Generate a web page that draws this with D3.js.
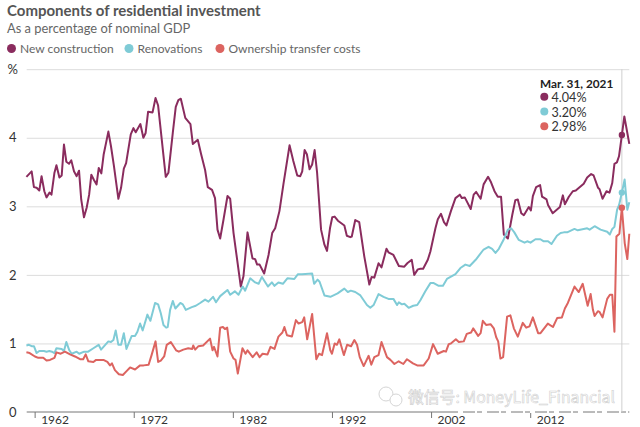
<!DOCTYPE html>
<html>
<head>
<meta charset="utf-8">
<script src="https://cdnjs.cloudflare.com/ajax/libs/d3/7.8.5/d3.min.js"></script>
<style>
  html, body { margin: 0; padding: 0; background: #fff; }
  svg { display: block; }
  text { font-family: "Lato", "Noto Sans", sans-serif; }
</style>
</head>
<body>
<svg id="chart" width="640" height="427"></svg>
<script>
// As [year, % of GDP]
const newConstruction = [[1961.17,3.43],[1961.7,3.51],[1961.93,3.28],[1962.2,3.27],[1962.47,3.23],[1962.7,3.44],[1962.98,3.22],[1963.2,3.13],[1963.5,3.2],[1963.7,3.17],[1964,3.49],[1964.2,3.6],[1964.5,3.42],[1964.73,3.45],[1964.96,3.9],[1965.2,3.65],[1965.47,3.62],[1965.7,3.67],[1965.97,3.51],[1966.24,3.44],[1966.48,3.52],[1966.7,3.1],[1966.98,2.84],[1967.25,2.98],[1967.5,3.17],[1967.72,3.46],[1968,3.38],[1968.25,3.32],[1968.47,3.56],[1968.73,3.48],[1968.97,3.76],[1969.44,4.09],[1969.7,3.88],[1970,3.59],[1970.45,3.11],[1970.72,3.27],[1971,3.55],[1971.23,3.63],[1971.7,4.05],[1971.97,4.14],[1972.2,4.08],[1972.67,4.2],[1972.97,4],[1973.2,4.07],[1973.45,4.38],[1973.9,4.37],[1974.2,4.58],[1974.46,4.47],[1975.23,3.43],[1975.5,3.49],[1975.94,4.07],[1976.24,4.45],[1976.5,4.55],[1976.75,4.57],[1977.2,4.29],[1977.72,4.2],[1977.96,3.91],[1978.46,3.97],[1978.8,3.76],[1979.2,3.53],[1979.47,3.28],[1979.9,3.24],[1980.2,3.12],[1980.45,2.66],[1980.72,2.53],[1981.05,2.8],[1981.46,3.15],[1981.73,3.11],[1982.07,2.61],[1982.8,1.83],[1983.07,1.98],[1983.48,2.62],[1983.98,2.24],[1984.25,2.23],[1984.45,2.15],[1984.7,2.15],[1985.16,2.02],[1985.6,2.29],[1985.97,2.61],[1986.27,2.68],[1986.7,2.93],[1987.1,3.32],[1987.72,3.89],[1988.1,3.66],[1988.5,3.45],[1988.8,3.44],[1989,3.51],[1989.24,3.82],[1989.47,3.76],[1989.74,3.54],[1990,3.61],[1990.25,3.82],[1990.5,3.49],[1990.9,2.66],[1991.24,2.44],[1991.5,2.35],[1991.8,2.68],[1992.03,2.84],[1992.27,2.85],[1992.6,2.79],[1993.25,2.72],[1993.5,2.57],[1993.85,2.55],[1994,2.56],[1994.35,2.8],[1994.75,2.77],[1995.26,2.27],[1995.77,1.86],[1996,1.97],[1996.27,1.96],[1996.7,2.17],[1997,2.11],[1997.5,2.38],[1997.7,2.33],[1998.2,2.29],[1998.75,2.13],[1999.3,2.12],[1999.6,2.17],[2000.05,2.22],[2000.3,2],[2000.66,2.08],[2000.92,2.09],[2001.2,2.09],[2001.67,2.22],[2001.93,2.34],[2002.44,2.68],[2002.68,2.81],[2003,2.89],[2003.3,2.77],[2003.55,2.72],[2004,2.93],[2004.46,3.12],[2004.9,3.17],[2005.1,3.12],[2005.4,3.13],[2006,2.96],[2006.3,3.17],[2006.55,3.21],[2007,3.11],[2007.3,3.32],[2007.75,3.43],[2008.05,3.35],[2008.4,3.22],[2008.73,3.14],[2009.06,3.14],[2009.34,2.59],[2009.75,2.53],[2010.2,2.88],[2010.5,3.09],[2010.75,3.1],[2011.1,2.9],[2011.36,2.87],[2011.86,2.99],[2012.07,2.94],[2012.27,3.15],[2012.6,3.28],[2013,3.31],[2013.2,3.14],[2013.65,3.1],[2013.8,3.02],[2014.27,2.9],[2015,2.99],[2015.3,3.16],[2015.5,3.03],[2015.9,3.14],[2016.3,3.22],[2016.6,3.23],[2017.4,3.33],[2017.75,3.42],[2018.15,3.47],[2018.4,3.45],[2018.85,3.27],[2019,3.25],[2019.3,3.11],[2019.7,3.22],[2020,3.2],[2020.28,3.34],[2020.5,3.62],[2020.75,3.64],[2020.96,3.73],[2021.25,4.04],[2021.5,4.31],[2022,3.91]];

const renovations = [[1961.17,0.97],[1961.43,0.98],[1961.7,0.96],[1961.93,0.96],[1962.2,0.86],[1962.47,0.89],[1962.94,0.89],[1963.2,0.88],[1963.48,0.89],[1963.75,0.88],[1964,0.86],[1964.2,0.93],[1964.73,0.92],[1964.96,0.89],[1965.2,1.02],[1965.5,0.9],[1965.74,0.85],[1966.24,0.88],[1966.5,0.85],[1967,0.88],[1967.4,0.88],[1967.93,0.93],[1968.46,0.98],[1968.7,0.91],[1969.44,1.03],[1969.7,1.02],[1969.95,1.05],[1970.18,1.19],[1970.45,0.98],[1970.72,0.98],[1971,1.15],[1971.26,0.92],[1971.8,1.11],[1972.13,1.11],[1972.37,1.17],[1972.64,1.29],[1972.9,1.19],[1973.38,1.42],[1973.68,1.33],[1974.15,1.59],[1974.46,1.57],[1974.73,1.44],[1975,1.27],[1975.27,1.23],[1975.43,1.24],[1975.67,1.49],[1975.94,1.62],[1976.2,1.51],[1976.7,1.59],[1976.95,1.57],[1977.25,1.49],[1977.86,1.53],[1978.26,1.55],[1978.7,1.59],[1979.2,1.64],[1979.54,1.61],[1980,1.68],[1980.3,1.6],[1980.72,1.69],[1981.46,1.78],[1981.73,1.71],[1982.2,1.76],[1982.57,1.71],[1983,1.83],[1983.24,1.77],[1983.75,1.95],[1984.25,1.89],[1984.6,1.87],[1984.93,1.97],[1985.54,1.83],[1985.94,1.89],[1986.2,1.84],[1986.6,1.89],[1987.05,1.87],[1987.5,1.95],[1988.2,1.94],[1988.57,2.01],[1988.97,2.01],[1990,2.02],[1990.2,1.87],[1990.55,1.93],[1990.75,1.9],[1991.24,1.7],[1991.84,1.68],[1992.57,1.73],[1993.25,1.8],[1993.6,1.75],[1993.9,1.77],[1994.35,1.75],[1994.87,1.7],[1995.53,1.56],[1995.87,1.52],[1996.2,1.56],[1996.7,1.72],[1997.2,1.68],[1997.7,1.65],[1998.2,1.65],[1998.57,1.56],[1998.75,1.6],[1999.06,1.57],[1999.3,1.58],[1999.74,1.52],[2000.2,1.55],[2000.6,1.56],[2000.92,1.63],[2001.42,1.76],[2001.93,1.88],[2002.27,1.88],[2002.77,1.84],[2003.2,1.84],[2003.6,1.94],[2004.46,2.01],[2004.96,2.1],[2005.46,2.15],[2005.9,2.13],[2006.5,2.22],[2007.3,2.37],[2007.8,2.41],[2008.16,2.38],[2008.5,2.32],[2008.84,2.38],[2009.34,2.52],[2009.75,2.66],[2010.08,2.68],[2010.4,2.62],[2010.85,2.51],[2011.43,2.47],[2011.7,2.49],[2012.03,2.47],[2012.53,2.52],[2013.03,2.52],[2013.37,2.49],[2013.8,2.49],[2014.15,2.45],[2014.7,2.57],[2015.07,2.61],[2015.4,2.62],[2015.73,2.62],[2016.47,2.67],[2016.8,2.65],[2017.75,2.68],[2018,2.66],[2018.5,2.71],[2019.1,2.66],[2019.77,2.63],[2020.04,2.59],[2020.28,2.67],[2020.5,2.7],[2020.77,2.95],[2020.97,3.02],[2021.25,3.2],[2021.53,3.39],[2021.8,2.95],[2022,3.06]];

const ownershipCosts = [[1961.17,0.87],[1961.5,0.86],[1962.03,0.81],[1962.37,0.79],[1962.87,0.79],[1963.2,0.75],[1963.55,0.76],[1964,0.79],[1964.2,0.87],[1964.63,0.85],[1965.06,0.88],[1965.57,0.84],[1966.07,0.81],[1966.58,0.77],[1966.9,0.77],[1967.15,0.84],[1967.42,0.74],[1967.93,0.73],[1968.2,0.76],[1968.94,0.76],[1969.34,0.73],[1969.6,0.68],[1969.8,0.71],[1970.1,0.61],[1970.5,0.55],[1970.9,0.54],[1971.3,0.6],[1971.63,0.65],[1972.13,0.62],[1972.64,0.68],[1973,0.68],[1973.5,0.69],[1973.8,0.83],[1974.2,1.03],[1974.46,0.73],[1974.73,0.75],[1975.07,0.81],[1975.33,0.98],[1975.74,1.02],[1976.27,0.9],[1976.55,0.88],[1977,0.91],[1977.5,0.93],[1977.9,0.92],[1978,0.97],[1978.2,0.91],[1978.53,0.96],[1979,0.97],[1979.7,1.07],[1979.95,0.9],[1980.1,0.95],[1980.45,0.81],[1980.72,1.23],[1981,1.24],[1981.2,1.21],[1981.43,1.23],[1981.73,0.88],[1982.07,0.78],[1982.27,0.76],[1982.5,0.56],[1982.97,0.93],[1983.28,0.85],[1983.48,0.9],[1984,0.8],[1984.4,0.87],[1984.7,0.8],[1985,0.85],[1985.5,0.84],[1985.8,0.95],[1986.2,0.92],[1986.6,1.1],[1987,1.16],[1987.2,1.24],[1987.46,1.12],[1987.96,1.1],[1988.36,1.34],[1988.63,1.29],[1989,1.31],[1989.2,1.38],[1989.5,1.06],[1990,1.43],[1990.42,0.77],[1990.7,0.85],[1991,0.83],[1991.5,1.15],[1991.83,0.9],[1992,0.85],[1992.27,1],[1992.5,0.98],[1992.74,1.06],[1993.2,0.83],[1993.53,0.98],[1993.93,0.96],[1994.26,1.05],[1994.53,0.98],[1994.8,0.8],[1995.2,0.67],[1995.7,0.82],[1995.97,0.69],[1996.27,0.8],[1996.7,0.83],[1997,1.02],[1997.55,0.8],[1997.9,0.76],[1998.3,0.7],[1998.73,0.74],[1999.2,0.7],[1999.57,0.77],[2000.17,0.71],[2000.6,0.68],[2001.25,0.68],[2001.76,0.78],[2002.2,0.99],[2002.67,0.85],[2003.28,0.89],[2003.5,0.88],[2003.78,0.99],[2004,1],[2004.5,1.06],[2004.8,1.02],[2005.3,1.03],[2005.6,1.14],[2006.04,1.16],[2006.25,1.22],[2006.75,1.11],[2007,1.15],[2007.22,1.33],[2007.55,1.27],[2008,1.28],[2008.33,1.22],[2008.57,1.09],[2008.77,1.03],[2009,0.78],[2009.27,0.8],[2009.67,1.39],[2010,1.41],[2010.35,1.22],[2010.75,1.1],[2011.25,1.3],[2011.6,1.23],[2011.93,1.25],[2012.27,1.38],[2012.8,1.15],[2013.04,1.15],[2013.78,1.29],[2014.3,1.24],[2014.72,1.37],[2015.2,1.38],[2015.5,1.51],[2015.8,1.59],[2016.47,1.83],[2016.9,1.75],[2017.3,1.87],[2017.8,1.55],[2018.1,1.72],[2018.33,1.49],[2018.5,1.4],[2018.83,1.47],[2019,1.46],[2019.3,1.38],[2019.77,1.65],[2020.04,1.71],[2020.28,1.71],[2020.5,1.17],[2020.7,2.56],[2021,2.6],[2021.25,2.98],[2021.54,2.46],[2021.8,2.23],[2022,2.6]];

const seriesNames = ["New construction", "Renovations", "Ownership transfer costs"];
const seriesColors = ["#8a2c5e", "#7fcbd6", "#dc6460"];
const seriesData = [newConstruction, renovations, ownershipCosts];
const yTicks = [0, 1, 2, 3, 4, 5];
const xTicks = [1962, 1972, 1982, 1992, 2002, 2012];
const hoverYear = 2021.25;
const hoverLabel = "Mar. 31, 2021";
const hoverValues = [4.04, 3.2, 2.98];

const svg = d3.select("#chart");

// one year is 9.91px, one point 68.56px
const x = d3.scaleLinear().domain([1961.2, 2022]).range([26.7, 629.3]);
const y = d3.scaleLinear().domain([0, 5]).range([412, 69.2]);

// Title block
svg.append("text").attr("x", 7).attr("y", 16).attr("font-size", 15).attr("font-weight", 700)
  .attr("fill", "#555").text("Components of residential investment");
svg.append("text").attr("x", 7).attr("y", 33).attr("font-size", 12.9).attr("fill", "#666")
  .text("As a percentage of nominal GDP");

// Legend
const legendDotX = [11.5, 129, 220];
seriesNames.forEach((name, i) => {
  svg.append("circle").attr("cx", legendDotX[i]).attr("cy", 48.5).attr("r", 4.5).attr("fill", seriesColors[i]);
  svg.append("text").attr("x", legendDotX[i] + 8.5).attr("y", 53).attr("font-size", 12)
    .attr("fill", "#666").text(name);
});

// Y gridlines and labels
const yAxis = d3.axisLeft(y).tickValues(yTicks).tickSize(-(x.range()[1] - x.range()[0]))
  .tickFormat((d) => (d === 5 ? "%" : d));
const yG = svg.append("g").attr("transform", `translate(${x.range()[0]},0)`).call(yAxis);
yG.select(".domain").remove();
yG.selectAll(".tick line").attr("stroke", "#dcdcdc").attr("stroke-width", 1);
yG.selectAll(".tick").filter((d) => d === 0).select("line").remove();
yG.selectAll(".tick text").attr("x", -14).attr("text-anchor", "middle")
  .attr("font-size", 13).attr("fill", "#333").style("font-family", "Lato, sans-serif");

// X axis, labels sit right of the tick
const xAxis = d3.axisBottom(x).tickValues(xTicks).tickSize(6).tickFormat(d3.format("d"));
const xG = svg.append("g").attr("transform", `translate(0,${y(0)})`).call(xAxis);
xG.select(".domain").attr("stroke", "#777").attr("d", `M${x.range()[0]},0H${x.range()[1]}`);
xG.selectAll(".tick line").attr("stroke", "#777");
xG.selectAll(".tick text").attr("x", 6).attr("y", 3.5).attr("text-anchor", "start")
  .attr("font-size", 12).attr("fill", "#333").style("font-family", "Lato, sans-serif");

// Hover rule
svg.append("line").attr("x1", x(hoverYear)).attr("x2", x(hoverYear))
  .attr("y1", y(5)).attr("y2", y(0)).attr("stroke", "#cfcfcf").attr("stroke-width", 1);

// Lines
const line = d3.line().x((d) => x(d[0])).y((d) => y(d[1]));
seriesData.forEach((d, i) => {
  svg.append("path").datum(d).attr("fill", "none").attr("stroke", seriesColors[i])
    .attr("stroke-width", 2).attr("stroke-linejoin", "round").attr("d", line);
});

// Hover markers and readout
hoverValues.forEach((v, i) => {
  svg.append("circle").attr("cx", x(hoverYear)).attr("cy", y(v)).attr("r", 3.2).attr("fill", seriesColors[i]);
  const rowY = 96.7 + i * 14.8;
  svg.append("circle").attr("cx", 544.3).attr("cy", rowY).attr("r", 4).attr("fill", seriesColors[i]);
  svg.append("text").attr("x", 551.5).attr("y", rowY + 5).attr("font-size", 12.6)
    .attr("fill", "#333").text(d3.format(".2f")(v) + "%");
});
svg.append("text").attr("x", 540).attr("y", 88).attr("font-size", 11.8).attr("font-weight", 700)
  .attr("fill", "#222").text(hoverLabel);

// Watermark sits on top of the baseline
svg.append("line").attr("x1", 458).attr("x2", 628).attr("y1", y(0)).attr("y2", y(0))
  .attr("stroke", "#fff").attr("stroke-width", 2).attr("stroke-dasharray", "5 12 2 5");
const wm = svg.append("g");
wm.append("circle").attr("cx", 386).attr("cy", 394).attr("r", 7).attr("fill", "#fff").attr("stroke", "#d5d5d5");
wm.append("circle").attr("cx", 396).attr("cy", 400).attr("r", 6).attr("fill", "#fff").attr("stroke", "#d5d5d5");
wm.append("text").attr("x", 408).attr("y", 403).attr("font-size", 15.8).attr("fill", "#fff")
  .attr("stroke", "#cfcfcf").attr("stroke-width", 0.6)
  .style("font-family", '"Noto Sans CJK SC", "DejaVu Sans", sans-serif')
  .text("微信号: MoneyLife_Financial");
</script>
</body>
</html>
